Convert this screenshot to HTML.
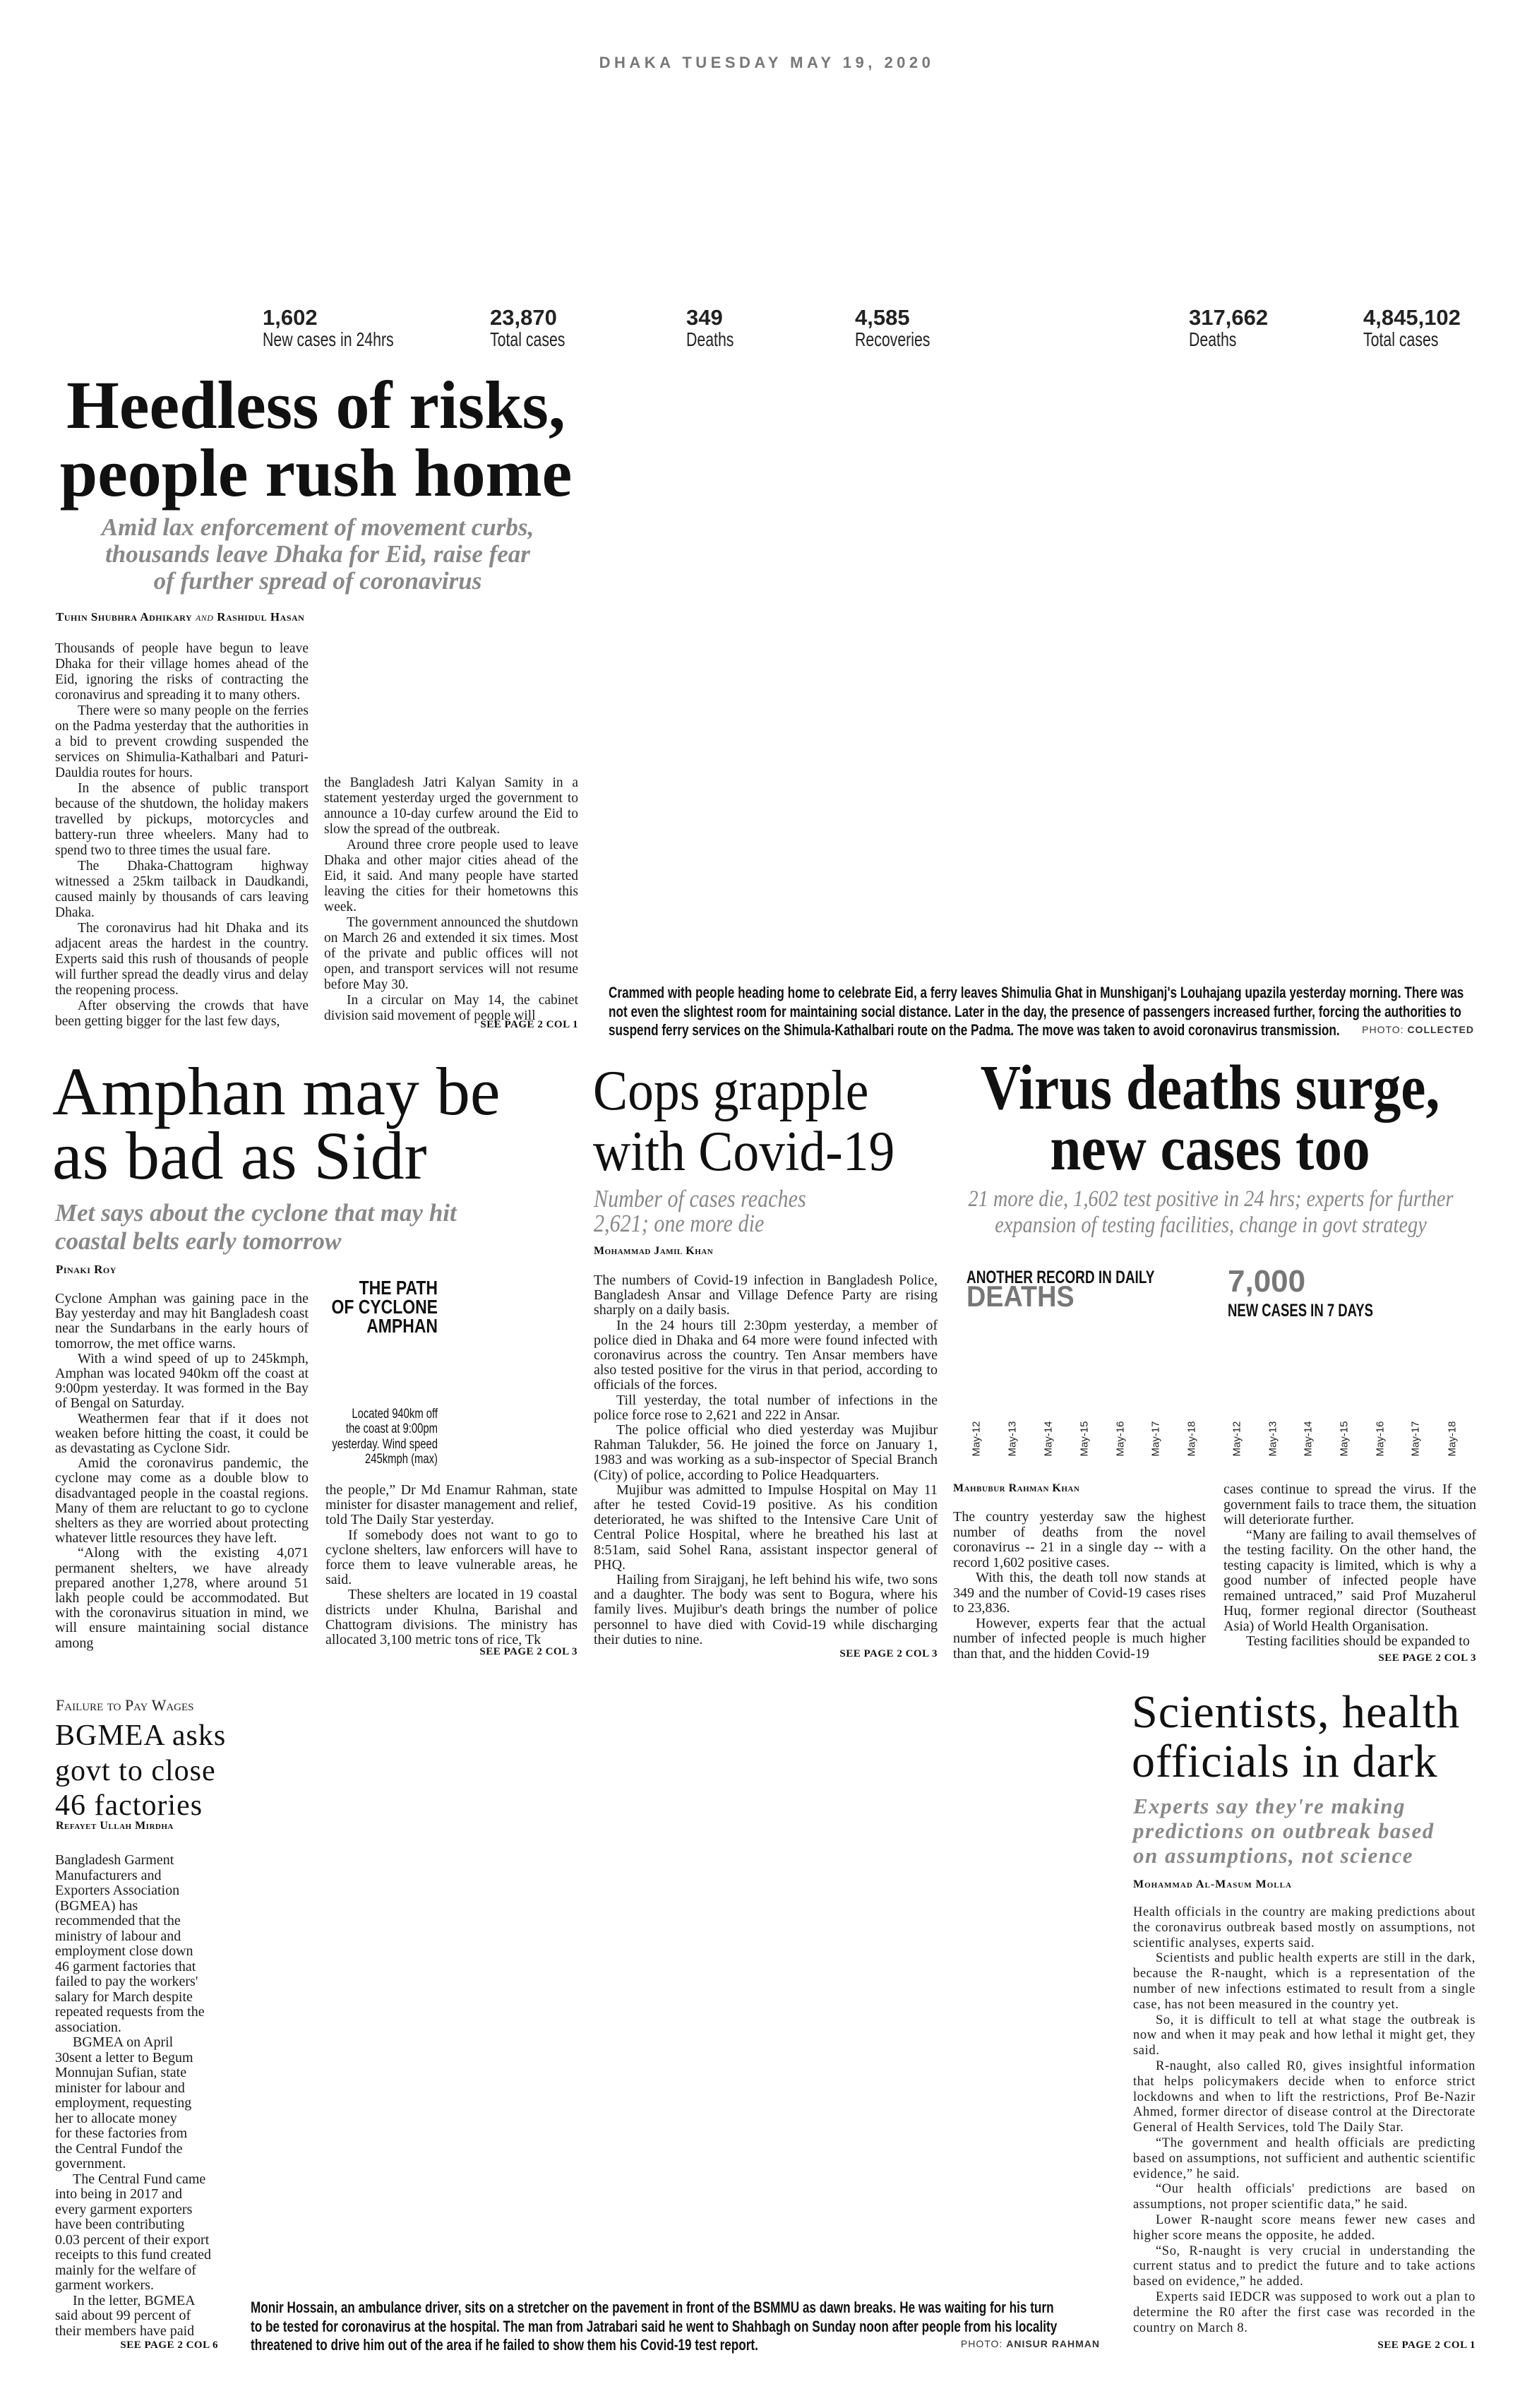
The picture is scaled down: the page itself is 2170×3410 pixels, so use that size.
<!DOCTYPE html>
<html><head><meta charset="utf-8">
<style>
*{margin:0;padding:0;box-sizing:border-box}
body{width:2170px;height:3410px;background:#fff;position:relative;overflow:hidden;font-family:"Liberation Serif",serif;color:#111}
.a{position:absolute}
.body{font-family:"Liberation Serif",serif;font-size:19.5px;line-height:21.6px;text-align:justify;color:#1a1a1a}
.body p{text-indent:32px}
.body p.f{text-indent:0}
.sc{font-variant:small-caps;font-weight:bold;font-size:19px;letter-spacing:.5px}
.sans{font-family:"Liberation Sans",sans-serif}
.num{font-family:"Liberation Sans",sans-serif;font-weight:bold;font-size:31px;color:#222}
.lab{font-family:"Liberation Sans",sans-serif;font-size:28px;color:#222;transform:scaleX(.76);transform-origin:0 0;white-space:nowrap}
.see{font-size:15px;font-weight:bold;text-align:right;letter-spacing:.5px}
.date{font-family:"Liberation Sans",sans-serif;font-size:15px;transform:rotate(-90deg);transform-origin:center;width:60px;text-align:center;color:#222}
.cap{font-family:"Liberation Sans",sans-serif;font-weight:bold;font-size:22px;line-height:26.5px;transform:scaleX(.78);transform-origin:0 0;white-space:nowrap;color:#111}
</style></head><body>

<div class="a sans" style="left:836px;top:76px;width:500px;text-align:center;font-size:22px;font-weight:bold;letter-spacing:5.5px;color:#777">DHAKA TUESDAY MAY 19, 2020</div>

<div class="a num" style="left:372px;top:432px">1,602</div><div class="a lab" style="left:372px;top:465px">New cases in 24hrs</div>
<div class="a num" style="left:694px;top:432px">23,870</div><div class="a lab" style="left:694px;top:465px">Total cases</div>
<div class="a num" style="left:972px;top:432px">349</div><div class="a lab" style="left:972px;top:465px">Deaths</div>
<div class="a num" style="left:1211px;top:432px">4,585</div><div class="a lab" style="left:1211px;top:465px">Recoveries</div>
<div class="a num" style="left:1684px;top:432px">317,662</div><div class="a lab" style="left:1684px;top:465px">Deaths</div>
<div class="a num" style="left:1931px;top:432px">4,845,102</div><div class="a lab" style="left:1931px;top:465px">Total cases</div>

<!-- Heedless -->
<div class="a" style="left:20px;top:526px;width:855px;text-align:center;font-size:96px;line-height:96px;font-weight:bold;color:#111;white-space:nowrap">Heedless of risks,<br>people rush home</div>
<div class="a" style="left:100px;top:728px;width:700px;text-align:center;font-size:35px;line-height:38px;font-style:italic;font-weight:bold;color:#888">Amid lax enforcement of movement curbs,<br>thousands leave Dhaka for Eid, raise fear<br>of further spread of coronavirus</div>
<div class="a sc" style="left:79px;top:864px;font-size:17px">Tuhin Shubhra Adhikary <i style="font-weight:normal">and</i> Rashidul Hasan</div>
<div class="a body" style="left:78px;top:908px;width:359px;line-height:22px">
<p class="f">Thousands of people have begun to leave Dhaka for their village homes ahead of the Eid, ignoring the risks of contracting the coronavirus and spreading it to many others.</p>
<p>There were so many people on the ferries on the Padma yesterday that the authorities in a bid to prevent crowding suspended the services on Shimulia-Kathalbari and Paturi-Dauldia routes for hours.</p>
<p>In the absence of public transport because of the shutdown, the holiday makers travelled by pickups, motorcycles and battery-run three wheelers. Many had to spend two to three times the usual fare.</p>
<p>The Dhaka-Chattogram highway witnessed a 25km tailback in Daudkandi, caused mainly by thousands of cars leaving Dhaka.</p>
<p>The coronavirus had hit Dhaka and its adjacent areas the hardest in the country. Experts said this rush of thousands of people will further spread the deadly virus and delay the reopening process.</p>
<p>After observing the crowds that have been getting bigger for the last few days,</p>
</div>
<div class="a body" style="left:459px;top:1098px;width:360px;line-height:22px">
<p class="f">the Bangladesh Jatri Kalyan Samity in a statement yesterday urged the government to announce a 10-day curfew around the Eid to slow the spread of the outbreak.</p>
<p>Around three crore people used to leave Dhaka and other major cities ahead of the Eid, it said. And many people have started leaving the cities for their hometowns this week.</p>
<p>The government announced the shutdown on March 26 and extended it six times. Most of the private and public offices will not open, and transport services will not resume before May 30.</p>
<p>In a circular on May 14, the cabinet division said movement of people will</p>
</div>
<div class="a see" style="left:600px;top:1443px;width:219px">SEE PAGE 2 COL 1</div>

<div class="a cap" style="left:862px;top:1393px">Crammed with people heading home to celebrate Eid, a ferry leaves Shimulia Ghat in Munshiganj's Louhajang upazila yesterday morning. There was<br>not even the slightest room for maintaining social distance. Later in the day, the presence of passengers increased further, forcing the authorities to<br>suspend ferry services on the Shimula-Kathalbari route on the Padma. The move was taken to avoid coronavirus transmission.</div>
<div class="a sans" style="left:1890px;top:1450px;width:198px;text-align:right;font-size:14px;letter-spacing:1px;color:#333">PHOTO: <b>COLLECTED</b></div>

<!-- Amphan -->
<div class="a" style="left:74px;top:1500px;font-size:96px;line-height:91px;color:#111;white-space:nowrap">Amphan may be<br>as bad as Sidr</div>
<div class="a" style="left:78px;top:1698px;font-size:35px;line-height:40px;font-style:italic;font-weight:bold;color:#888;white-space:nowrap">Met says about the cyclone that may hit<br>coastal belts early tomorrow</div>
<div class="a sc" style="left:79px;top:1788px;font-size:17px">Pinaki Roy</div>
<div class="a body" style="left:78px;top:1829px;width:359px;font-size:20px;line-height:21.2px">
<p class="f">Cyclone Amphan was gaining pace in the Bay yesterday and may hit Bangladesh coast near the Sundarbans in the early hours of tomorrow, the met office warns.</p>
<p>With a wind speed of up to 245kmph, Amphan was located 940km off the coast at 9:00pm yesterday. It was formed in the Bay of Bengal on Saturday.</p>
<p>Weathermen fear that if it does not weaken before hitting the coast, it could be as devastating as Cyclone Sidr.</p>
<p>Amid the coronavirus pandemic, the cyclone may come as a double blow to disadvantaged people in the coastal regions. Many of them are reluctant to go to cyclone shelters as they are worried about protecting whatever little resources they have left.</p>
<p>“Along with the existing 4,071 permanent shelters, we have already prepared another 1,278, where around 51 lakh people could be accommodated. But with the coronavirus situation in mind, we will ensure maintaining social distance among</p>
</div>
<div class="a sans" style="left:420px;top:1810px;width:200px;text-align:right;font-size:28px;line-height:27px;font-weight:bold;transform:scaleX(.82);transform-origin:100% 0">THE PATH<br>OF CYCLONE<br>AMPHAN</div>
<div class="a sans" style="left:380px;top:1992px;width:240px;text-align:right;font-size:19px;line-height:21.3px;transform:scaleX(.78);transform-origin:100% 0">Located 940km off<br>the coast at 9:00pm<br>yesterday. Wind speed<br>245kmph (max)</div>
<div class="a body" style="left:461px;top:2100px;width:357px;font-size:20px;line-height:21.2px">
<p class="f">the people,” Dr Md Enamur Rahman, state minister for disaster management and relief, told The Daily Star yesterday.</p>
<p>If somebody does not want to go to cyclone shelters, law enforcers will have to force them to leave vulnerable areas, he said.</p>
<p>These shelters are located in 19 coastal districts under Khulna, Barishal and Chattogram divisions. The ministry has allocated 3,100 metric tons of rice, Tk</p>
</div>
<div class="a see" style="left:600px;top:2331px;width:218px">SEE PAGE 2 COL 3</div>

<!-- Cops -->
<div class="a" style="left:840px;top:1502px;font-size:80px;line-height:86px;color:#111;white-space:nowrap;transform:scaleX(.92);transform-origin:0 0">Cops grapple<br>with Covid-19</div>
<div class="a" style="left:841px;top:1680px;font-size:35px;line-height:35px;font-style:italic;color:#888;white-space:nowrap;transform:scaleX(.86);transform-origin:0 0">Number of cases reaches<br>2,621; one more die</div>
<div class="a sc" style="left:841px;top:1763px;font-size:16px">Mohammad Jamil Khan</div>
<div class="a body" style="left:841px;top:1803px;width:487px;font-size:20px;line-height:21.2px">
<p class="f">The numbers of Covid-19 infection in Bangladesh Police, Bangladesh Ansar and Village Defence Party are rising sharply on a daily basis.</p>
<p>In the 24 hours till 2:30pm yesterday, a member of police died in Dhaka and 64 more were found infected with coronavirus across the country. Ten Ansar members have also tested positive for the virus in that period, according to officials of the forces.</p>
<p>Till yesterday, the total number of infections in the police force rose to 2,621 and 222 in Ansar.</p>
<p>The police official who died yesterday was Mujibur Rahman Talukder, 56. He joined the force on January 1, 1983 and was working as a sub-inspector of Special Branch (City) of police, according to Police Headquarters.</p>
<p>Mujibur was admitted to Impulse Hospital on May 11 after he tested Covid-19 positive. As his condition deteriorated, he was shifted to the Intensive Care Unit of Central Police Hospital, where he breathed his last at 8:51am, said Sohel Rana, assistant inspector general of PHQ.</p>
<p>Hailing from Sirajganj, he left behind his wife, two sons and a daughter. The body was sent to Bogura, where his family lives. Mujibur's death brings the number of police personnel to have died with Covid-19 while discharging their duties to nine.</p>
</div>
<div class="a see" style="left:1100px;top:2334px;width:228px">SEE PAGE 2 COL 3</div>

<!-- Virus -->
<div class="a" style="left:1314px;top:1498px;width:800px;text-align:center;font-size:90px;line-height:86px;font-weight:bold;color:#111;white-space:nowrap;transform:scaleX(.88);transform-origin:50% 0">Virus deaths surge,<br>new cases too</div>
<div class="a" style="left:1300px;top:1680px;width:830px;text-align:center;font-size:33px;line-height:37px;font-style:italic;color:#888;white-space:nowrap;transform:scaleX(.86);transform-origin:50% 0">21 more die, 1,602 test positive in 24 hrs; experts for further<br>expansion of testing facilities, change in govt strategy</div>
<div class="a sans" style="left:1369px;top:1795px;font-size:25px;font-weight:bold;white-space:nowrap;transform:scaleX(.76);transform-origin:0 0">ANOTHER RECORD IN DAILY</div>
<div class="a sans" style="left:1369px;top:1812px;font-size:42px;font-weight:bold;color:#777;white-space:nowrap;transform:scaleX(.9);transform-origin:0 0">DEATHS</div>
<div class="a sans" style="left:1739px;top:1790px;font-size:44px;font-weight:bold;color:#777">7,000</div>
<div class="a sans" style="left:1739px;top:1842px;font-size:25px;font-weight:bold;white-space:nowrap;transform:scaleX(.74);transform-origin:0 0">NEW CASES IN 7 DAYS</div>

<div class="a date" style="left:1353px;top:2029px">May-12</div>
<div class="a date" style="left:1404px;top:2029px">May-13</div>
<div class="a date" style="left:1455px;top:2029px">May-14</div>
<div class="a date" style="left:1506px;top:2029px">May-15</div>
<div class="a date" style="left:1557px;top:2029px">May-16</div>
<div class="a date" style="left:1607px;top:2029px">May-17</div>
<div class="a date" style="left:1658px;top:2029px">May-18</div>
<div class="a date" style="left:1722px;top:2029px">May-12</div>
<div class="a date" style="left:1773px;top:2029px">May-13</div>
<div class="a date" style="left:1823px;top:2029px">May-14</div>
<div class="a date" style="left:1874px;top:2029px">May-15</div>
<div class="a date" style="left:1925px;top:2029px">May-16</div>
<div class="a date" style="left:1975px;top:2029px">May-17</div>
<div class="a date" style="left:2027px;top:2029px">May-18</div>

<div class="a sc" style="left:1350px;top:2099px;font-size:16px">Mahbubur Rahman Khan</div>
<div class="a body" style="left:1350px;top:2138px;width:358px;font-size:20px;line-height:21.5px">
<p class="f">The country yesterday saw the highest number of deaths from the novel coronavirus -- 21 in a single day -- with a record 1,602 positive cases.</p>
<p>With this, the death toll now stands at 349 and the number of Covid-19 cases rises to 23,836.</p>
<p>However, experts fear that the actual number of infected people is much higher than that, and the hidden Covid-19</p>
</div>
<div class="a body" style="left:1733px;top:2099px;width:358px;font-size:20px;line-height:21.5px">
<p class="f">cases continue to spread the virus. If the government fails to trace them, the situation will deteriorate further.</p>
<p>“Many are failing to avail themselves of the testing facility. On the other hand, the testing capacity is limited, which is why a good number of infected people have remained untraced,” said Prof Muzaherul Huq, former regional director (Southeast Asia) of World Health Organisation.</p>
<p>Testing facilities should be expanded to</p>
</div>
<div class="a see" style="left:1860px;top:2340px;width:231px">SEE PAGE 2 COL 3</div>

<!-- BGMEA -->
<div class="a" style="left:79px;top:2402px;font-size:22px;font-variant:small-caps;color:#222">Failure to Pay Wages</div>
<div class="a" style="left:78px;top:2434px;font-size:42px;line-height:49.5px;color:#111;white-space:nowrap;letter-spacing:1px">BGMEA asks<br>govt to close<br>46 factories</div>
<div class="a sc" style="left:79px;top:2577px;font-size:16px">Refayet Ullah Mirdha</div>
<div class="a" style="left:78px;top:2624px;font-size:20px;line-height:21.5px;white-space:nowrap;color:#1a1a1a">Bangladesh Garment<br>Manufacturers and<br>Exporters Association<br>(BGMEA) has<br>recommended that the<br>ministry of labour and<br>employment close down<br>46 garment factories that<br>failed to pay the workers'<br>salary for March despite<br>repeated requests from the<br>association.<br>&nbsp;&nbsp;&nbsp;&nbsp;&nbsp;BGMEA on April<br>30sent a letter to Begum<br>Monnujan Sufian, state<br>minister for labour and<br>employment, requesting<br>her to allocate money<br>for these factories from<br>the Central Fundof the<br>government.<br>&nbsp;&nbsp;&nbsp;&nbsp;&nbsp;The Central Fund came<br>into being in 2017 and<br>every garment exporters<br>have been contributing<br>0.03 percent of their export<br>receipts to this fund created<br>mainly for the welfare of<br>garment workers.<br>&nbsp;&nbsp;&nbsp;&nbsp;&nbsp;In the letter, BGMEA<br>said about 99 percent of<br>their members have paid</div>
<div class="a see" style="left:110px;top:3313px;width:199px">SEE PAGE 2 COL 6</div>

<div class="a cap" style="left:355px;top:3255px">Monir Hossain, an ambulance driver, sits on a stretcher on the pavement in front of the BSMMU as dawn breaks. He was waiting for his turn<br>to be tested for coronavirus at the hospital. The man from Jatrabari said he went to Shahbagh on Sunday noon after people from his locality<br>threatened to drive him out of the area if he failed to show them his Covid-19 test report.</div>
<div class="a sans" style="left:1300px;top:3311px;width:258px;text-align:right;font-size:14px;letter-spacing:1px;color:#333">PHOTO: <b>ANISUR RAHMAN</b></div>

<!-- Scientists -->
<div class="a" style="left:1603px;top:2390px;font-size:66px;line-height:70px;color:#111;white-space:nowrap;letter-spacing:1px">Scientists, health<br>officials in dark</div>
<div class="a" style="left:1605px;top:2540px;font-size:31px;line-height:35px;font-style:italic;font-weight:bold;color:#888;white-space:nowrap;letter-spacing:1.5px">Experts say they're making<br>predictions on outbreak based<br>on assumptions, not science</div>
<div class="a sc" style="left:1605px;top:2660px;font-size:16px;letter-spacing:1px">Mohammad Al-Masum Molla</div>
<div class="a body" style="left:1605px;top:2698px;width:485px;font-size:18.5px;line-height:21.8px;letter-spacing:.6px">
<p class="f">Health officials in the country are making predictions about the coronavirus outbreak based mostly on assumptions, not scientific analyses, experts said.</p>
<p>Scientists and public health experts are still in the dark, because the R-naught, which is a representation of the number of new infections estimated to result from a single case, has not been measured in the country yet.</p>
<p>So, it is difficult to tell at what stage the outbreak is now and when it may peak and how lethal it might get, they said.</p>
<p>R-naught, also called R0, gives insightful information that helps policymakers decide when to enforce strict lockdowns and when to lift the restrictions, Prof Be-Nazir Ahmed, former director of disease control at the Directorate General of Health Services, told The Daily Star.</p>
<p>“The government and health officials are predicting based on assumptions, not sufficient and authentic scientific evidence,” he said.</p>
<p>“Our health officials' predictions are based on assumptions, not proper scientific data,” he said.</p>
<p>Lower R-naught score means fewer new cases and higher score means the opposite, he added.</p>
<p>“So, R-naught is very crucial in understanding the current status and to predict the future and to take actions based on evidence,” he added.</p>
<p>Experts said IEDCR was supposed to work out a plan to determine the R0 after the first case was recorded in the country on March 8.</p>
</div>
<div class="a see" style="left:1860px;top:3313px;width:230px">SEE PAGE 2 COL 1</div>

</body></html>
